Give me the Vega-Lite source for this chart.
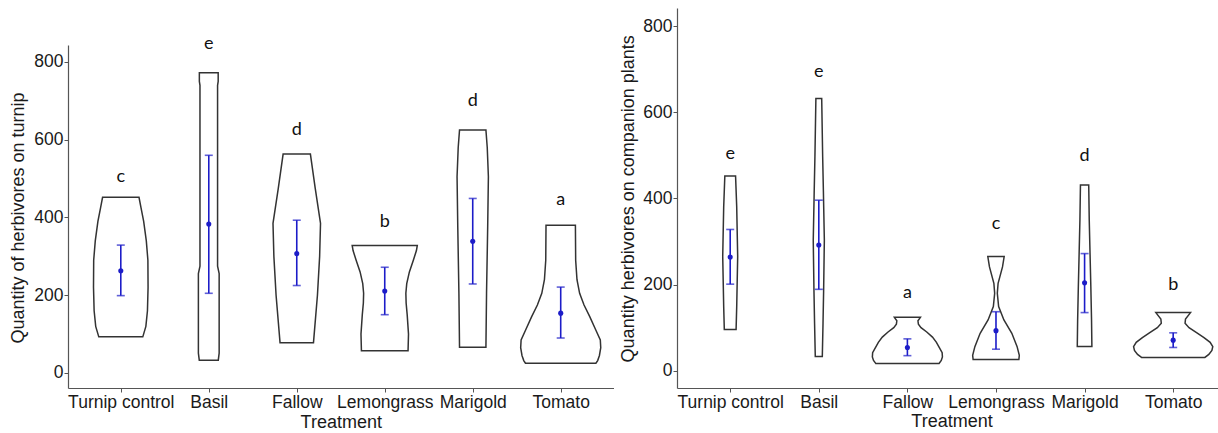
{
  "$schema": "https://vega.github.io/schema/vega-lite/v6.json",
  "autosize": {"type": "pad"},
  "padding": {"left": 9, "top": 8, "right": 0, "bottom": 0},
  "bounds": "flush",
  "spacing": 63,
  "background": "white",
  "config": {
    "view": {"stroke": null},
    "font": "Liberation Sans",
    "axis": {
      "grid": false,
      "labelFont": "Liberation Sans",
      "labelFontSize": 17.5,
      "labelColor": "#1a1a1a",
      "titleFont": "Liberation Sans",
      "titleFontSize": 18,
      "titleFontWeight": "normal",
      "titleColor": "#1a1a1a",
      "domainColor": "#555555",
      "domainWidth": 1.2,
      "tickColor": "#555555",
      "tickSize": 4,
      "labelPadding": 1
    }
  },
  "datasets": {
    "v1": [
      {"t":"Turnip control","o":1,"y":93,"w":-0.25},{"t":"Turnip control","o":2,"y":120,"w":-0.285},{"t":"Turnip control","o":3,"y":160,"w":-0.303},{"t":"Turnip control","o":4,"y":220,"w":-0.31},{"t":"Turnip control","o":5,"y":290,"w":-0.308},{"t":"Turnip control","o":6,"y":340,"w":-0.29},{"t":"Turnip control","o":7,"y":390,"w":-0.26},{"t":"Turnip control","o":8,"y":425,"w":-0.23},{"t":"Turnip control","o":9,"y":452,"w":-0.207},
      {"t":"Turnip control","o":10,"y":452,"w":0.207},{"t":"Turnip control","o":11,"y":425,"w":0.23},{"t":"Turnip control","o":12,"y":390,"w":0.26},{"t":"Turnip control","o":13,"y":340,"w":0.29},{"t":"Turnip control","o":14,"y":290,"w":0.308},{"t":"Turnip control","o":15,"y":220,"w":0.31},{"t":"Turnip control","o":16,"y":160,"w":0.303},{"t":"Turnip control","o":17,"y":120,"w":0.285},{"t":"Turnip control","o":18,"y":93,"w":0.25},
      {"t":"Basil","o":1,"y":33,"w":-0.108},{"t":"Basil","o":2,"y":51,"w":-0.118},{"t":"Basil","o":3,"y":256,"w":-0.118},{"t":"Basil","o":4,"y":275,"w":-0.1},{"t":"Basil","o":5,"y":740,"w":-0.1},{"t":"Basil","o":6,"y":750,"w":-0.107},{"t":"Basil","o":7,"y":772,"w":-0.107},
      {"t":"Basil","o":8,"y":772,"w":0.107},{"t":"Basil","o":9,"y":750,"w":0.107},{"t":"Basil","o":10,"y":740,"w":0.1},{"t":"Basil","o":11,"y":275,"w":0.1},{"t":"Basil","o":12,"y":256,"w":0.118},{"t":"Basil","o":13,"y":51,"w":0.118},{"t":"Basil","o":14,"y":33,"w":0.108},
      {"t":"Fallow","o":1,"y":78,"w":-0.19},{"t":"Fallow","o":2,"y":200,"w":-0.235},{"t":"Fallow","o":3,"y":300,"w":-0.26},{"t":"Fallow","o":4,"y":385,"w":-0.27},{"t":"Fallow","o":5,"y":475,"w":-0.21},{"t":"Fallow","o":6,"y":563,"w":-0.155},
      {"t":"Fallow","o":7,"y":563,"w":0.155},{"t":"Fallow","o":8,"y":475,"w":0.21},{"t":"Fallow","o":9,"y":385,"w":0.27},{"t":"Fallow","o":10,"y":300,"w":0.26},{"t":"Fallow","o":11,"y":200,"w":0.235},{"t":"Fallow","o":12,"y":78,"w":0.19},
      {"t":"Lemongrass","o":1,"y":57,"w":-0.265},{"t":"Lemongrass","o":2,"y":100,"w":-0.27},{"t":"Lemongrass","o":3,"y":150,"w":-0.255},{"t":"Lemongrass","o":4,"y":180,"w":-0.243},{"t":"Lemongrass","o":5,"y":205,"w":-0.24},{"t":"Lemongrass","o":6,"y":230,"w":-0.25},{"t":"Lemongrass","o":7,"y":260,"w":-0.28},{"t":"Lemongrass","o":8,"y":290,"w":-0.325},{"t":"Lemongrass","o":9,"y":315,"w":-0.36},{"t":"Lemongrass","o":10,"y":328,"w":-0.37},
      {"t":"Lemongrass","o":11,"y":328,"w":0.37},{"t":"Lemongrass","o":12,"y":315,"w":0.36},{"t":"Lemongrass","o":13,"y":290,"w":0.325},{"t":"Lemongrass","o":14,"y":260,"w":0.28},{"t":"Lemongrass","o":15,"y":230,"w":0.25},{"t":"Lemongrass","o":16,"y":205,"w":0.24},{"t":"Lemongrass","o":17,"y":180,"w":0.243},{"t":"Lemongrass","o":18,"y":150,"w":0.255},{"t":"Lemongrass","o":19,"y":100,"w":0.27},{"t":"Lemongrass","o":20,"y":57,"w":0.265},
      {"t":"Marigold","o":1,"y":66,"w":-0.15},{"t":"Marigold","o":2,"y":205,"w":-0.157},{"t":"Marigold","o":3,"y":376,"w":-0.17},{"t":"Marigold","o":4,"y":505,"w":-0.178},{"t":"Marigold","o":5,"y":580,"w":-0.165},{"t":"Marigold","o":6,"y":625,"w":-0.15},
      {"t":"Marigold","o":7,"y":625,"w":0.15},{"t":"Marigold","o":8,"y":580,"w":0.165},{"t":"Marigold","o":9,"y":505,"w":0.178},{"t":"Marigold","o":10,"y":376,"w":0.17},{"t":"Marigold","o":11,"y":205,"w":0.157},{"t":"Marigold","o":12,"y":66,"w":0.15},
      {"t":"Tomato","o":1,"y":25,"w":-0.4},{"t":"Tomato","o":2,"y":32,"w":-0.42},{"t":"Tomato","o":3,"y":45,"w":-0.44},{"t":"Tomato","o":4,"y":65,"w":-0.455},{"t":"Tomato","o":5,"y":85,"w":-0.45},{"t":"Tomato","o":6,"y":110,"w":-0.4},{"t":"Tomato","o":7,"y":145,"w":-0.33},{"t":"Tomato","o":8,"y":175,"w":-0.265},{"t":"Tomato","o":9,"y":205,"w":-0.215},{"t":"Tomato","o":10,"y":240,"w":-0.185},{"t":"Tomato","o":11,"y":290,"w":-0.17},{"t":"Tomato","o":12,"y":380,"w":-0.167},
      {"t":"Tomato","o":13,"y":380,"w":0.167},{"t":"Tomato","o":14,"y":290,"w":0.17},{"t":"Tomato","o":15,"y":240,"w":0.185},{"t":"Tomato","o":16,"y":205,"w":0.215},{"t":"Tomato","o":17,"y":175,"w":0.265},{"t":"Tomato","o":18,"y":145,"w":0.33},{"t":"Tomato","o":19,"y":110,"w":0.4},{"t":"Tomato","o":20,"y":85,"w":0.45},{"t":"Tomato","o":21,"y":65,"w":0.455},{"t":"Tomato","o":22,"y":45,"w":0.44},{"t":"Tomato","o":23,"y":32,"w":0.42},{"t":"Tomato","o":24,"y":25,"w":0.4}
    ],
    "v2": [
      {"t":"Turnip control","o":1,"y":96,"w":-0.067},{"t":"Turnip control","o":2,"y":149,"w":-0.074},{"t":"Turnip control","o":3,"y":265,"w":-0.085},{"t":"Turnip control","o":4,"y":380,"w":-0.074},{"t":"Turnip control","o":5,"y":452,"w":-0.061},
      {"t":"Turnip control","o":6,"y":452,"w":0.061},{"t":"Turnip control","o":7,"y":380,"w":0.074},{"t":"Turnip control","o":8,"y":265,"w":0.085},{"t":"Turnip control","o":9,"y":149,"w":0.074},{"t":"Turnip control","o":10,"y":96,"w":0.067},
      {"t":"Basil","o":1,"y":33,"w":-0.04},{"t":"Basil","o":2,"y":110,"w":-0.048},{"t":"Basil","o":3,"y":187,"w":-0.055},{"t":"Basil","o":4,"y":303,"w":-0.063},{"t":"Basil","o":5,"y":419,"w":-0.052},{"t":"Basil","o":6,"y":497,"w":-0.044},{"t":"Basil","o":7,"y":632,"w":-0.033},
      {"t":"Basil","o":8,"y":632,"w":0.033},{"t":"Basil","o":9,"y":497,"w":0.044},{"t":"Basil","o":10,"y":419,"w":0.052},{"t":"Basil","o":11,"y":303,"w":0.063},{"t":"Basil","o":12,"y":187,"w":0.055},{"t":"Basil","o":13,"y":110,"w":0.048},{"t":"Basil","o":14,"y":33,"w":0.04},
      {"t":"Fallow","o":1,"y":17,"w":-0.36},{"t":"Fallow","o":2,"y":24,"w":-0.385},{"t":"Fallow","o":3,"y":32,"w":-0.398},{"t":"Fallow","o":4,"y":42,"w":-0.395},{"t":"Fallow","o":5,"y":55,"w":-0.36},{"t":"Fallow","o":6,"y":66,"w":-0.33},{"t":"Fallow","o":7,"y":78,"w":-0.285},{"t":"Fallow","o":8,"y":90,"w":-0.22},{"t":"Fallow","o":9,"y":100,"w":-0.155},{"t":"Fallow","o":10,"y":108,"w":-0.125},{"t":"Fallow","o":11,"y":116,"w":-0.12},{"t":"Fallow","o":12,"y":124,"w":-0.148},
      {"t":"Fallow","o":13,"y":124,"w":0.148},{"t":"Fallow","o":14,"y":116,"w":0.12},{"t":"Fallow","o":15,"y":108,"w":0.125},{"t":"Fallow","o":16,"y":100,"w":0.155},{"t":"Fallow","o":17,"y":90,"w":0.22},{"t":"Fallow","o":18,"y":78,"w":0.285},{"t":"Fallow","o":19,"y":66,"w":0.33},{"t":"Fallow","o":20,"y":55,"w":0.36},{"t":"Fallow","o":21,"y":42,"w":0.395},{"t":"Fallow","o":22,"y":32,"w":0.398},{"t":"Fallow","o":23,"y":24,"w":0.385},{"t":"Fallow","o":24,"y":17,"w":0.36},
      {"t":"Lemongrass","o":1,"y":26,"w":-0.26},{"t":"Lemongrass","o":2,"y":36,"w":-0.265},{"t":"Lemongrass","o":3,"y":56,"w":-0.24},{"t":"Lemongrass","o":4,"y":87,"w":-0.18},{"t":"Lemongrass","o":5,"y":118,"w":-0.09},{"t":"Lemongrass","o":6,"y":149,"w":-0.03},{"t":"Lemongrass","o":7,"y":180,"w":-0.015},{"t":"Lemongrass","o":8,"y":203,"w":-0.024},{"t":"Lemongrass","o":9,"y":241,"w":-0.074},{"t":"Lemongrass","o":10,"y":265,"w":-0.093},
      {"t":"Lemongrass","o":11,"y":265,"w":0.093},{"t":"Lemongrass","o":12,"y":241,"w":0.074},{"t":"Lemongrass","o":13,"y":203,"w":0.024},{"t":"Lemongrass","o":14,"y":180,"w":0.015},{"t":"Lemongrass","o":15,"y":149,"w":0.03},{"t":"Lemongrass","o":16,"y":118,"w":0.09},{"t":"Lemongrass","o":17,"y":87,"w":0.18},{"t":"Lemongrass","o":18,"y":56,"w":0.24},{"t":"Lemongrass","o":19,"y":36,"w":0.265},{"t":"Lemongrass","o":20,"y":26,"w":0.26},
      {"t":"Marigold","o":1,"y":56,"w":-0.083},{"t":"Marigold","o":2,"y":118,"w":-0.079},{"t":"Marigold","o":3,"y":195,"w":-0.071},{"t":"Marigold","o":4,"y":272,"w":-0.062},{"t":"Marigold","o":5,"y":350,"w":-0.053},{"t":"Marigold","o":6,"y":431,"w":-0.047},
      {"t":"Marigold","o":7,"y":431,"w":0.047},{"t":"Marigold","o":8,"y":350,"w":0.053},{"t":"Marigold","o":9,"y":272,"w":0.062},{"t":"Marigold","o":10,"y":195,"w":0.071},{"t":"Marigold","o":11,"y":118,"w":0.079},{"t":"Marigold","o":12,"y":56,"w":0.083},
      {"t":"Tomato","o":1,"y":31,"w":-0.36},{"t":"Tomato","o":2,"y":38,"w":-0.405},{"t":"Tomato","o":3,"y":47,"w":-0.44},{"t":"Tomato","o":4,"y":56,"w":-0.45},{"t":"Tomato","o":5,"y":66,"w":-0.42},{"t":"Tomato","o":6,"y":77,"w":-0.35},{"t":"Tomato","o":7,"y":88,"w":-0.27},{"t":"Tomato","o":8,"y":100,"w":-0.18},{"t":"Tomato","o":9,"y":110,"w":-0.135},{"t":"Tomato","o":10,"y":120,"w":-0.14},{"t":"Tomato","o":11,"y":135,"w":-0.197},
      {"t":"Tomato","o":12,"y":135,"w":0.197},{"t":"Tomato","o":13,"y":120,"w":0.14},{"t":"Tomato","o":14,"y":110,"w":0.135},{"t":"Tomato","o":15,"y":100,"w":0.18},{"t":"Tomato","o":16,"y":88,"w":0.27},{"t":"Tomato","o":17,"y":77,"w":0.35},{"t":"Tomato","o":18,"y":66,"w":0.42},{"t":"Tomato","o":19,"y":56,"w":0.45},{"t":"Tomato","o":20,"y":47,"w":0.44},{"t":"Tomato","o":21,"y":38,"w":0.405},{"t":"Tomato","o":22,"y":31,"w":0.36}
    ],
    "e1": [
      {"t":"Turnip control","lo":199,"m":263,"hi":329},
      {"t":"Basil","lo":205,"m":383,"hi":560},
      {"t":"Fallow","lo":225,"m":307,"hi":393},
      {"t":"Lemongrass","lo":150,"m":211,"hi":272},
      {"t":"Marigold","lo":229,"m":339,"hi":449},
      {"t":"Tomato","lo":90,"m":154,"hi":221}
    ],
    "e2": [
      {"t":"Turnip control","lo":201,"m":264,"hi":328},
      {"t":"Basil","lo":189,"m":292,"hi":396},
      {"t":"Fallow","lo":35,"m":54,"hi":74},
      {"t":"Lemongrass","lo":50,"m":93,"hi":137},
      {"t":"Marigold","lo":135,"m":204,"hi":272},
      {"t":"Tomato","lo":54,"m":71,"hi":88}
    ],
    "l1": [
      {"t":"Turnip control","y":492,"lab":"c"},
      {"t":"Basil","y":833,"lab":"e"},
      {"t":"Fallow","y":611,"lab":"d"},
      {"t":"Lemongrass","y":375,"lab":"b"},
      {"t":"Marigold","y":686,"lab":"d"},
      {"t":"Tomato","y":432,"lab":"a"}
    ],
    "l2": [
      {"t":"Turnip control","y":491,"lab":"e"},
      {"t":"Basil","y":682,"lab":"e"},
      {"t":"Fallow","y":170,"lab":"a"},
      {"t":"Lemongrass","y":330,"lab":"c"},
      {"t":"Marigold","y":486,"lab":"d"},
      {"t":"Tomato","y":187,"lab":"b"}
    ]
  },
  "hconcat": [
    {
      "width": 545.5,
      "height": 380,
      "encoding": {
        "x": {
          "field": "t", "type": "nominal", "sort": null,
          "scale": {"type": "point", "padding": 0.6, "domain": ["Turnip control","Basil","Fallow","Lemongrass","Marigold","Tomato"]},
          "axis": {"title": "Treatment", "labelAngle": 0, "titlePadding": 3}
        }
      },
      "layer": [
        {
          "data": {"name": "v1"},
          "mark": {"type": "line", "interpolate": "linear-closed", "stroke": "#333333", "strokeWidth": 1.5},
          "encoding": {
            "xOffset": {"field": "w", "type": "quantitative", "scale": {"domain": [-0.5, 0.5], "range": [-44, 44]}},
            "y": {"field": "y", "type": "quantitative",
                  "scale": {"domain": [-38.6, 843.7], "range": [380, 37], "nice": false, "zero": false},
                  "axis": {"title": "Quantity of herbivores on turnip", "values": [0,200,400,600,800], "titleX": -50, "titleY": 209.5, "titleAngle": -90, "titleBaseline": "middle", "titleAlign": "center"}},
            "detail": {"field": "t"},
            "order": {"field": "o", "type": "quantitative"}
          }
        },
        {
          "data": {"name": "e1"},
          "mark": {"type": "rule", "color": "#1c1cc8", "strokeWidth": 1.6},
          "encoding": {"y": {"field": "lo", "type": "quantitative"}, "y2": {"field": "hi"}}
        },
        {
          "data": {"name": "e1"},
          "mark": {"type": "tick", "orient": "horizontal", "color": "#1c1cc8", "size": 8, "thickness": 1.6},
          "encoding": {"y": {"field": "lo", "type": "quantitative"}}
        },
        {
          "data": {"name": "e1"},
          "mark": {"type": "tick", "orient": "horizontal", "color": "#1c1cc8", "size": 8, "thickness": 1.6},
          "encoding": {"y": {"field": "hi", "type": "quantitative"}}
        },
        {
          "data": {"name": "e1"},
          "mark": {"type": "circle", "color": "#1c1cc8", "size": 26, "opacity": 1},
          "encoding": {"y": {"field": "m", "type": "quantitative"}}
        },
        {
          "data": {"name": "l1"},
          "mark": {"type": "text", "font": "Lato", "fontSize": 18, "color": "#111111", "baseline": "alphabetic", "align": "center"},
          "encoding": {"y": {"field": "y", "type": "quantitative"}, "text": {"field": "lab"}}
        }
      ]
    },
    {
      "width": 541.5,
      "height": 380,
      "encoding": {
        "x": {
          "field": "t", "type": "nominal", "sort": null,
          "scale": {"type": "point", "padding": 0.556, "align": 0.54, "domain": ["Turnip control","Basil","Fallow","Lemongrass","Marigold","Tomato"]},
          "axis": {"title": "Treatment", "labelAngle": 0, "titlePadding": 2, "titleX": 274.5}
        }
      },
      "layer": [
        {
          "data": {"name": "v2"},
          "mark": {"type": "line", "interpolate": "linear-closed", "stroke": "#333333", "strokeWidth": 1.5},
          "encoding": {
            "xOffset": {"field": "w", "type": "quantitative", "scale": {"domain": [-0.5, 0.5], "range": [-44.3, 44.3]}},
            "y": {"field": "y", "type": "quantitative",
                  "scale": {"domain": [-40.1, 842.2], "nice": false, "zero": false},
                  "axis": {"title": "Quantity herbivores on companion plants", "values": [0,200,400,600,800], "titleX": -48.5, "titleY": 190.3, "titleAngle": -90, "titleBaseline": "middle", "titleAlign": "center"}},
            "detail": {"field": "t"},
            "order": {"field": "o", "type": "quantitative"}
          }
        },
        {
          "data": {"name": "e2"},
          "mark": {"type": "rule", "color": "#1c1cc8", "strokeWidth": 1.6},
          "encoding": {"y": {"field": "lo", "type": "quantitative"}, "y2": {"field": "hi"}}
        },
        {
          "data": {"name": "e2"},
          "mark": {"type": "tick", "orient": "horizontal", "color": "#1c1cc8", "size": 8, "thickness": 1.6},
          "encoding": {"y": {"field": "lo", "type": "quantitative"}}
        },
        {
          "data": {"name": "e2"},
          "mark": {"type": "tick", "orient": "horizontal", "color": "#1c1cc8", "size": 8, "thickness": 1.6},
          "encoding": {"y": {"field": "hi", "type": "quantitative"}}
        },
        {
          "data": {"name": "e2"},
          "mark": {"type": "circle", "color": "#1c1cc8", "size": 26, "opacity": 1},
          "encoding": {"y": {"field": "m", "type": "quantitative"}}
        },
        {
          "data": {"name": "l2"},
          "mark": {"type": "text", "font": "Lato", "fontSize": 18, "color": "#111111", "baseline": "alphabetic", "align": "center"},
          "encoding": {"y": {"field": "y", "type": "quantitative"}, "text": {"field": "lab"}}
        }
      ]
    }
  ]
}
